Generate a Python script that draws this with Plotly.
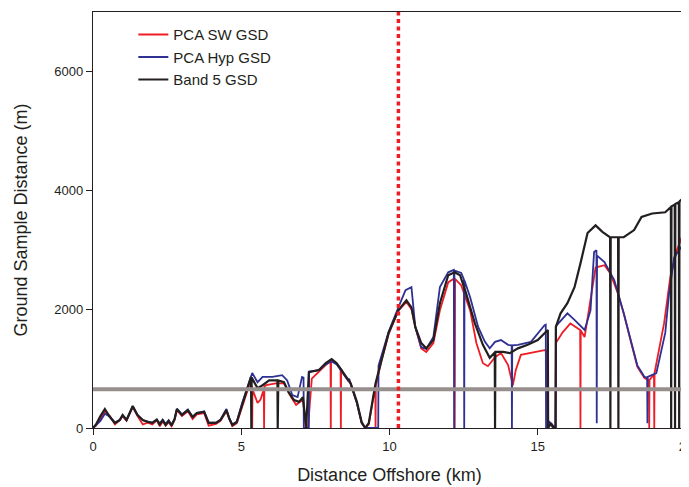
import plotly.graph_objects as go

# ---- data (km offshore, GSD in metres) ----
sw_x = [0.0, 0.1, 0.25, 0.4, 0.57, 0.74, 0.9, 1.0, 1.13, 1.34, 1.5, 1.68, 1.85, 2.0, 2.15, 2.25, 2.35, 2.45, 2.55, 2.65, 2.75, 2.83, 3.0, 3.2, 3.36, 3.5, 3.75, 3.9, 4.15, 4.3, 4.5, 4.6, 4.7, 4.85, 5.03, 5.27, 5.36, 5.37, 5.38, 5.55, 5.65, 5.76, 5.77, 5.78, 5.84, 6.17, 6.44, 6.68, 6.85, 7.0, 7.08, 7.19, 7.25, 7.38, 7.7, 8.0, 8.01, 8.02, 8.03, 8.2, 8.35, 8.36, 8.37, 8.46, 8.69, 8.9, 9.06, 9.18, 9.3, 9.52, 9.53, 9.54, 9.73, 9.97, 10.3, 10.57, 10.74, 10.87, 11.07, 11.24, 11.48, 11.7, 11.98, 12.19, 12.2, 12.21, 12.42, 12.72, 12.93, 13.15, 13.32, 13.56, 13.76, 14.0, 14.16, 14.26, 14.43, 14.9, 15.23, 15.3, 15.31, 15.45, 15.6, 15.61, 15.84, 16.1, 16.43, 16.44, 16.45, 16.58, 16.78, 16.95, 17.25, 17.45, 17.7, 17.9, 18.1, 18.36, 18.6, 18.75, 18.76, 18.77, 18.92, 18.93, 18.94, 19.26, 19.47, 19.7, 20.0]
sw_y = [0, 40, 150, 280, 200, 60, 130, 200, 120, 350, 200, 60, 90, 60, 130, 30, 110, 40, 100, 30, 130, 300, 200, 280, 150, 230, 250, 40, 70, 120, 280, 140, 30, 80, 360, 720, 700, 0, 650, 420, 480, 650, 0, 700, 720, 750, 750, 520, 390, 440, 480, 0, 0, 830, 980, 1130, 1140, 0, 1140, 1090, 1000, 0, 990, 900, 740, 420, 80, 0, 60, 700, 0, 720, 1130, 1580, 1980, 2120, 2000, 1700, 1340, 1280, 1430, 1980, 2450, 2520, 0, 2510, 2400, 1980, 1430, 1090, 1040, 1190, 1260, 1060, 720, 975, 1230, 1280, 1310, 1300, 0, 60, 0, 1430, 1610, 1760, 1650, 0, 1640, 1530, 2200, 2700, 2740, 2600, 2270, 1930, 1530, 1030, 840, 800, 0, 810, 900, 0, 930, 1760, 2540, 3000, 3410]

hyp_x = [0.0, 0.1, 0.25, 0.4, 0.57, 0.74, 0.9, 1.0, 1.13, 1.34, 1.5, 1.68, 1.85, 2.0, 2.15, 2.25, 2.35, 2.45, 2.55, 2.65, 2.75, 2.83, 3.0, 3.2, 3.36, 3.5, 3.75, 3.9, 4.15, 4.3, 4.5, 4.6, 4.7, 4.85, 5.03, 5.37, 5.55, 5.72, 6.05, 6.38, 6.55, 6.72, 6.9, 7.05, 7.1, 7.11, 7.28, 7.29, 7.62, 7.85, 8.05, 8.22, 8.46, 8.6, 8.64, 8.69, 8.9, 9.06, 9.18, 9.62, 9.63, 9.97, 10.3, 10.54, 10.74, 10.87, 11.07, 11.24, 11.48, 11.7, 11.98, 12.17, 12.18, 12.19, 12.42, 12.51, 12.52, 12.53, 12.72, 12.99, 13.22, 13.38, 13.56, 13.76, 14.0, 14.12, 14.13, 14.14, 14.33, 14.77, 15.23, 15.27, 15.28, 15.4, 15.5, 15.6, 15.62, 16.0, 16.24, 16.58, 16.78, 16.9, 16.98, 16.99, 17.0, 17.25, 17.58, 17.9, 18.1, 18.36, 18.6, 18.69, 18.7, 18.71, 19.0, 19.3, 19.43, 19.6, 20.0]
hyp_y = [0, 50, 120, 240, 190, 90, 130, 210, 130, 360, 220, 130, 110, 90, 140, 80, 140, 70, 130, 60, 150, 320, 230, 310, 190, 250, 280, 90, 90, 140, 320, 160, 60, 110, 420, 925, 770, 860, 860, 890, 800, 555, 520, 860, 850, 0, 0, 950, 975, 1070, 1120, 1070, 900, 800, 830, 740, 420, 90, 0, 0, 1050, 1620, 2030, 2320, 2370, 1700, 1360, 1330, 1530, 2370, 2620, 2660, 0, 2650, 2610, 2500, 0, 2480, 2200, 1700, 1450, 1340, 1450, 1480, 1400, 1390, 0, 1390, 1400, 1450, 1730, 1740, 0, 100, 50, 0, 1720, 1930, 1820, 1650, 1980, 2960, 2990, 80, 2900, 2790, 2490, 1930, 1530, 1050, 860, 850, 80, 860, 925, 1600, 2270, 2870, 3160]

b5_x = [0.0, 0.1, 0.25, 0.4, 0.57, 0.74, 0.9, 1.0, 1.13, 1.34, 1.5, 1.68, 1.85, 2.0, 2.15, 2.25, 2.35, 2.45, 2.55, 2.65, 2.75, 2.83, 3.0, 3.2, 3.36, 3.5, 3.75, 3.9, 4.15, 4.3, 4.5, 4.6, 4.7, 4.85, 5.03, 5.27, 5.33, 5.34, 5.35, 5.55, 5.72, 5.94, 6.22, 6.23, 6.25, 6.44, 6.6, 6.78, 6.95, 7.08, 7.19, 7.28, 7.62, 7.85, 8.05, 8.22, 8.46, 8.69, 8.9, 9.06, 9.18, 9.3, 9.53, 9.73, 9.97, 10.3, 10.57, 10.74, 10.87, 11.07, 11.24, 11.48, 11.7, 11.98, 12.2, 12.38, 12.58, 12.88, 13.15, 13.38, 13.55, 13.56, 13.57, 13.83, 14.06, 14.33, 14.66, 15.0, 15.34, 15.35, 15.45, 15.5, 15.6, 15.61, 15.77, 16.0, 16.24, 16.44, 16.68, 16.95, 17.18, 17.44, 17.45, 17.46, 17.71, 17.72, 17.73, 17.9, 18.25, 18.5, 18.86, 19.3, 19.49, 19.5, 19.51, 19.62, 19.63, 19.64, 19.76, 19.77, 19.78, 20.0]
b5_y = [0, 60, 200, 320, 185, 85, 135, 220, 135, 370, 220, 135, 100, 85, 140, 60, 130, 50, 120, 40, 150, 320, 220, 300, 185, 250, 270, 85, 85, 135, 300, 150, 50, 100, 390, 800, 860, 0, 850, 670, 720, 800, 800, 0, 800, 770, 600, 470, 440, 520, 0, 940, 975, 1090, 1160, 1090, 925, 755, 440, 100, 0, 80, 755, 1140, 1600, 1980, 2150, 2030, 1700, 1430, 1340, 1480, 2100, 2570, 2620, 2570, 2270, 1760, 1400, 1180, 1270, 0, 1280, 1280, 1260, 1340, 1400, 1480, 1650, 0, 80, 20, 0, 1700, 1930, 2100, 2370, 2770, 3280, 3410, 3300, 3210, 0, 3210, 3210, 0, 3210, 3210, 3330, 3550, 3610, 3630, 3720, 0, 3730, 3760, 0, 3770, 3800, 0, 3810, 3920]

threshold_gsd = 650      # horizontal reference level (m)
shore_marker_km = 10.3   # vertical dotted marker (km)

x_ticks = [0, 5, 10, 15, 20]
y_ticks = [0, 2000, 4000, 6000]

fig = go.Figure()
fig.add_trace(go.Scatter(x=sw_x, y=sw_y, mode="lines", name="PCA SW GSD",
                         line=dict(color="#ee1d25", width=1.8)))
fig.add_trace(go.Scatter(x=hyp_x, y=hyp_y, mode="lines", name="PCA Hyp GSD",
                         line=dict(color="#2e3192", width=1.8)))
fig.add_trace(go.Scatter(x=b5_x, y=b5_y, mode="lines", name="Band 5 GSD",
                         line=dict(color="#231f20", width=2.2)))

fig.add_shape(type="line", xref="paper", yref="y", x0=0, x1=1,
              y0=threshold_gsd, y1=threshold_gsd,
              line=dict(color="#968f8d", width=4), layer="above")
fig.add_shape(type="line", xref="x", yref="paper", x0=shore_marker_km, x1=shore_marker_km,
              y0=0, y1=1, line=dict(color="#ee1d25", width=3.5, dash="4px,3.5px"), layer="above")

axis_common = dict(showgrid=False, zeroline=False, showline=True, mirror=True,
                   linecolor="#231f20", linewidth=1.3, ticks="outside", ticklen=6,
                   tickcolor="#231f20", tickwidth=1.3, automargin=False,
                   ticklabeloverflow="allow",
                   tickfont=dict(family="Arial, Liberation Sans, sans-serif", size=13, color="#231f20"))

# the page body adds an 8px offset, so the figure is sized to the visible area
fig.update_layout(
    width=681, height=479,
    margin=dict(l=85, r=3, t=4, b=59),
    paper_bgcolor="white", plot_bgcolor="white",
    font=dict(family="Arial, Liberation Sans, sans-serif", color="#231f20"),
    xaxis=dict(range=[0, 20], tickvals=x_ticks,
               title=dict(text="Distance Offshore (km)", font=dict(size=18)),
               **axis_common),
    yaxis=dict(range=[0, 7000], tickvals=y_ticks,
               title=dict(text="Ground Sample Distance (m)", font=dict(size=18), standoff=22),
               **axis_common),
    legend=dict(x=0.068, y=0.985, xanchor="left", yanchor="top", bgcolor="rgba(0,0,0,0)",
                font=dict(size=15, color="#231f20"), tracegroupgap=0),
    showlegend=True,
)

fig.write_html("out.html")
